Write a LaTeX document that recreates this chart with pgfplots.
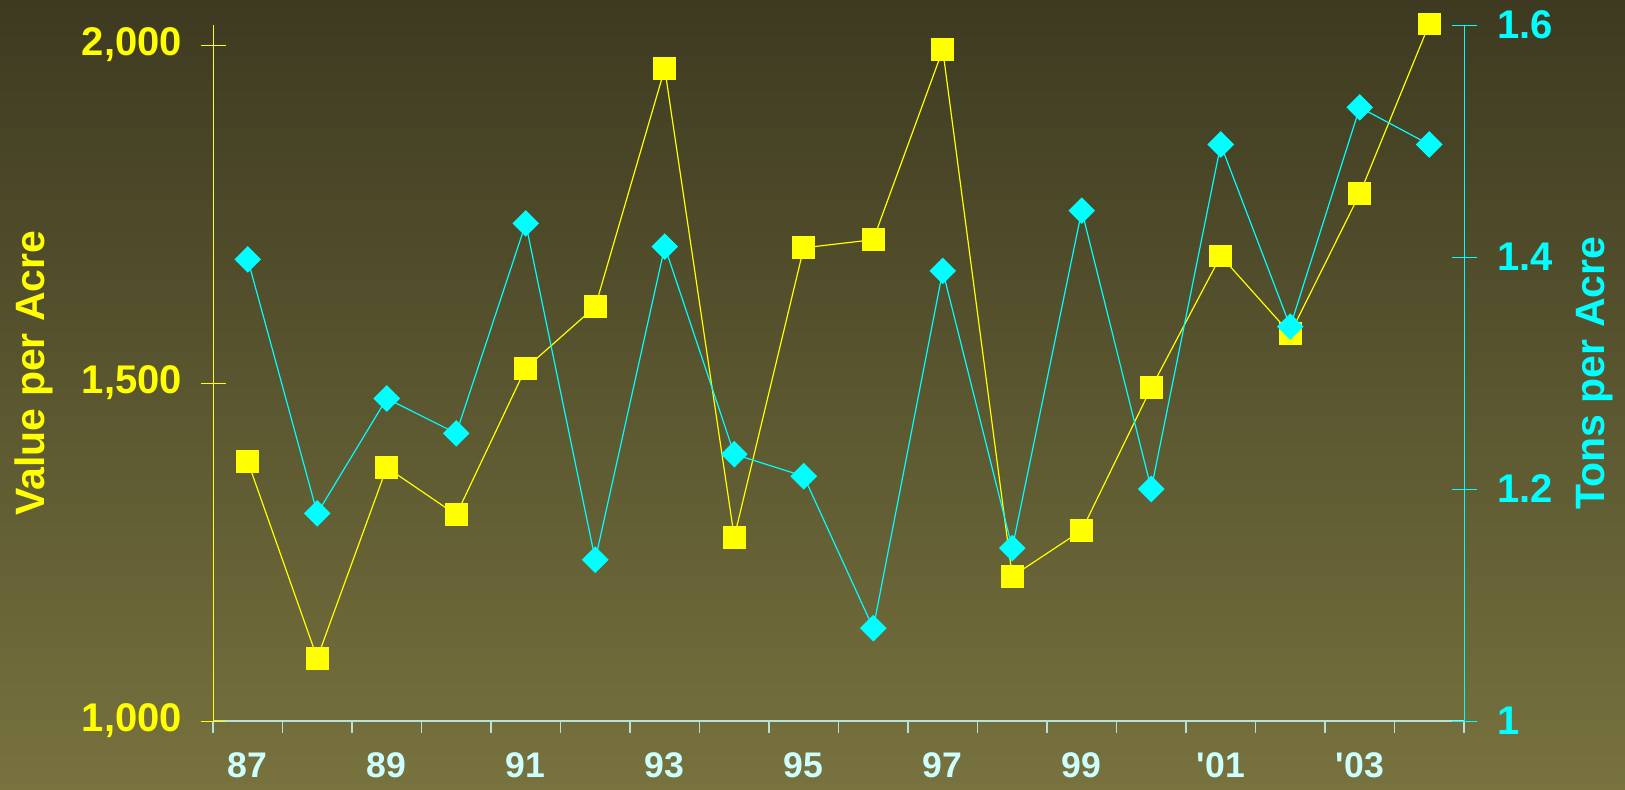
\documentclass[border=0pt]{standalone}
\usepackage{fontspec}
\setmainfont{Liberation Sans}[Ligatures=TeXOff]
\usepackage{pgfplots}
\pgfplotsset{compat=1.18}
\definecolor{bgtop}{RGB}{61,58,33}
\definecolor{bgbot}{RGB}{119,114,62}
\definecolor{vyellow}{RGB}{255,255,0}
\definecolor{tcyan}{RGB}{0,255,255}
\definecolor{xaxcol}{RGB}{185,225,215}
\definecolor{xlab}{RGB}{205,255,255}

\pgfplotstableread{
x val tons
0  1384 1.398
1  1093 1.179
2  1375 1.278
3  1305 1.248
4  1522 1.429
5  1613 1.139
6  1965 1.409
7  1272 1.230
8  1700 1.211
9  1712 1.080
10 1993 1.388
11 1214 1.149
12 1282 1.440
13 1493 1.200
14 1688 1.497
15 1573 1.340
16 1780 1.529
17 2031 1.497
}\datatable

\begin{document}
\begin{tikzpicture}[x=1pt,y=1pt]
\useasboundingbox (0,0) rectangle (812.5,394.5);
\shade[top color=bgtop, bottom color=bgbot] (0,0) rectangle (812.5,394.5);
\pgfplotsset{
  common/.style={
    at={(106.5pt,34pt)}, anchor=south west,
    width=625.5pt, height=348pt, scale only axis,
    xmin=-0.5, xmax=17.5,
    /pgf/number format/assume math mode=true,
    tick label style={font=\bfseries\fontsize{20}{24}\selectfont},
    clip=false,
  }
}
% x axis
\begin{axis}[common,
  ymin=0, ymax=1,
  axis y line=none, axis x line*=bottom,
  x axis line style={draw=xaxcol, line width=0.6pt, -},
  tick align=outside,
  xtick={0,2,...,16}, xticklabels={87,89,91,93,95,97,99,'01,'03},
  minor xtick={-0.5,0.5,...,17.5},
  major tick length=0pt, minor tick length=6pt,
  minor x tick style={draw=xaxcol, line width=0.6pt},
  xticklabel style={text=xlab, font=\bfseries\fontsize{17.8}{21}\selectfont, yshift=-14.5pt, inner sep=1pt},
]
\end{axis}
% left axis
\begin{axis}[common,
  ymin=1000, ymax=2029.6,
  axis x line=none, axis y line*=left,
  y axis line style={draw=vyellow, line width=0.5pt, -},
  tick align=center, major tick length=12.5pt,
  ytick={1000,1500,2000}, yticklabels={{1,000},{1,500},{2,000}},
  y tick style={draw=vyellow, line width=0.5pt},
  yticklabel style={text=vyellow, xshift=-5.7pt},
  ylabel={Value per Acre},
  ylabel style={at={(rel axis cs:-0.1435,0.5)}, anchor=center, rotate=0, text=vyellow, font=\bfseries\fontsize{20.5}{24}\selectfont},
]
\addplot[vyellow, line width=0.6pt, mark=square*, mark size=5.4pt, mark options={solid}] table[x=x, y=val] {\datatable};
\end{axis}
% right axis
\begin{axis}[common,
  ymin=1, ymax=1.6,
  axis x line=none, axis y line*=right,
  y axis line style={draw=tcyan, line width=0.5pt, -},
  tick align=center, major tick length=12.5pt,
  ytick={1,1.2,1.4,1.6}, yticklabels={1,1.2,1.4,1.6},
  y tick style={draw=tcyan, line width=0.5pt},
  yticklabel style={text=tcyan, xshift=7pt},
  ylabel={Tons per Acre},
  ylabel style={at={(rel axis cs:1.1045,0.5)}, anchor=center, rotate=0, text=tcyan, font=\bfseries\fontsize{20.5}{24}\selectfont},
]
\addplot[tcyan, line width=0.6pt, mark=square*, mark size=4.4pt, mark options={solid, rotate=45}] table[x=x, y=tons] {\datatable};
\end{axis}
\end{tikzpicture}
\end{document}
